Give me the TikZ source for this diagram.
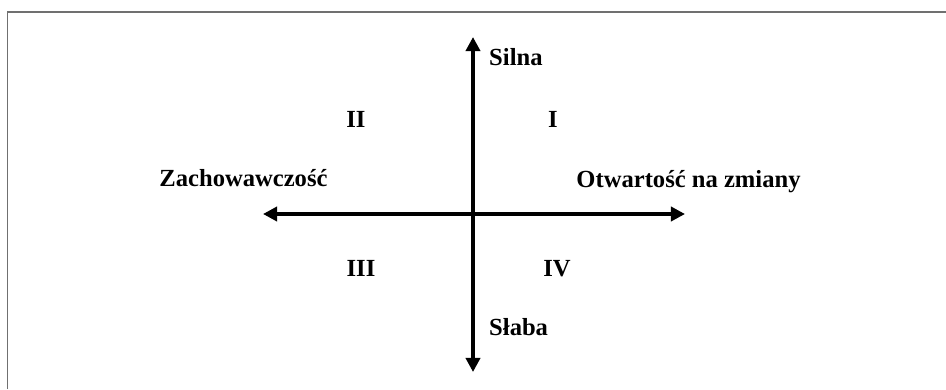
\documentclass[tikz,border=0pt]{standalone}
\usepackage{fontspec}
\setmainfont{Liberation Serif}
\usepackage{tikz}
\usetikzlibrary{arrows.meta}
\definecolor{cframe}{HTML}{707070}
\tikzset{
  axisline/.style={line width=3.8pt, {Triangle[length=12pt, width=12pt]}-{Triangle[length=12pt, width=12pt]}},
  quadlabel/.style={anchor=base, inner sep=0pt},
}

\begin{document}
\begin{tikzpicture}[x=0.03cm, y=-0.03cm, font=\fontsize{21}{24}\selectfont\bfseries]
  \useasboundingbox (0,0) rectangle (946,389);
  \draw[cframe, line width=1.3pt] (7.5,389) -- (7.5,12) -- (946,12);
  \coordinate (north) at (473,37);
  \coordinate (south) at (473,372);
  \coordinate (west) at (263,214);
  \coordinate (east) at (685,214);
  \draw[axisline] (west) -- (east);
  \draw[axisline] (north) -- (south);
  \node[anchor=base west, inner sep=0pt] (silna) at (489,65) {Silna};
  \node[anchor=base west, inner sep=0pt] (slaba) at (489,335) {Słaba};
  \node[quadlabel] (q1) at (553,127) {I};
  \node[quadlabel] (q2) at (356,127) {II};
  \node[quadlabel] (q3) at (361,276) {III};
  \node[quadlabel] (q4) at (557,276) {IV};
  \node[quadlabel] (zach) at (243.5,186) {Zachowawczość};
  \node[quadlabel] (otw) at (688.5,187) {Otwartość na zmiany};
\end{tikzpicture}
\end{document}
